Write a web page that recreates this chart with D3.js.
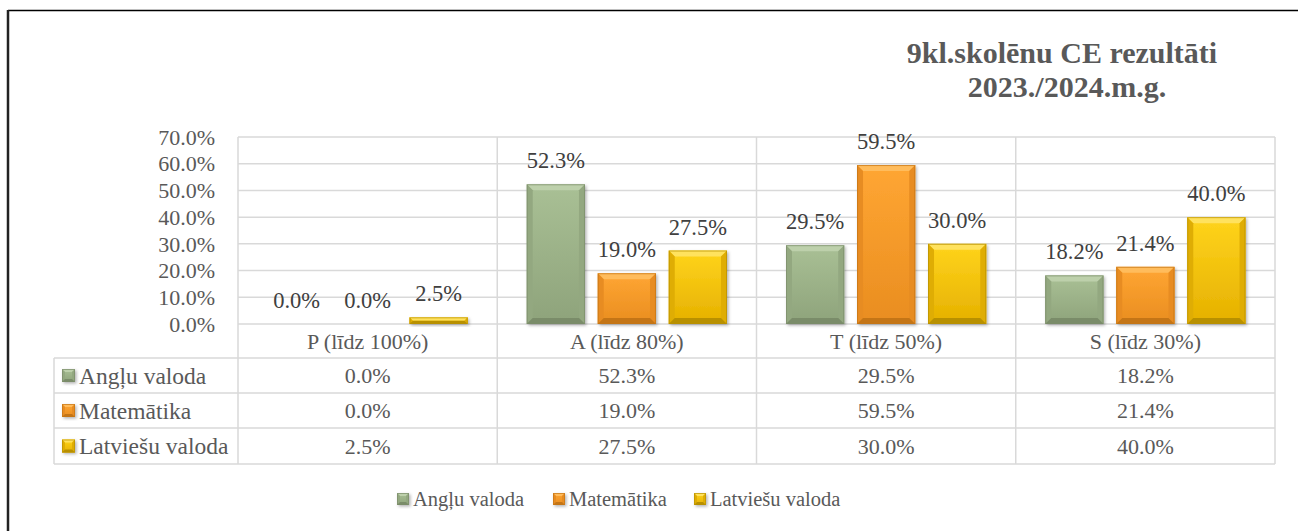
<!DOCTYPE html>
<html>
<head>
<meta charset="utf-8">
<script src="https://cdn.jsdelivr.net/npm/d3@7"></script>
<style>
  body { margin: 0; background: #fff; }
  svg { display: block; }
</style>
</head>
<body>
<svg width="1298" height="531" font-family="'Liberation Serif', 'DejaVu Serif', serif"></svg>
<script>
const categories = ["P (līdz 100%)", "A (līdz 80%)", "T (līdz 50%)", "S (līdz 30%)"];
const seriesNames = ["Angļu valoda", "Matemātika", "Latviešu valoda"];
const angluValues = [0.0, 52.3, 29.5, 18.2];
const matematikaValues = [0.0, 19.0, 59.5, 21.4];
const latviesuValues = [2.5, 27.5, 30.0, 40.0];
const yTicks = [0, 10, 20, 30, 40, 50, 60, 70];
const titleLines = ["9kl.skolēnu CE rezultāti", "2023./2024.m.g."];

const seriesValues = [angluValues, matematikaValues, latviesuValues];

// colour sets: face top, face bottom, top bevel, side bevel, bottom bevel
const palette = [
  { top: "#a9c095", bot: "#8ea37b", hi: "#bdd0ab", side: "#93a880", low: "#7a8c69" },
  { top: "#ffa633", bot: "#e98d20", hi: "#ffbc5c", side: "#e78c22", low: "#c47516" },
  { top: "#ffd41c", bot: "#e5b000", hi: "#ffe25e", side: "#dfad04", low: "#b89000" }
];

const svg = d3.select("svg");
const grid = "#d9d9d9";
const txt = "#595959";

// frame
svg.append("line").attr("x1", 8).attr("x2", 1298).attr("y1", 10.5).attr("y2", 10.5)
  .attr("stroke", "#000").attr("stroke-width", 1.5);
svg.append("line").attr("x1", 8).attr("x2", 8).attr("y1", 10).attr("y2", 531)
  .attr("stroke", "#222").attr("stroke-width", 2.5);

const defs = svg.append("defs");
defs.append("filter").attr("id", "shadow").attr("x", "-20%").attr("y", "-20%")
  .attr("width", "150%").attr("height", "150%")
  .append("feDropShadow").attr("dx", 1.5).attr("dy", 1.5).attr("stdDeviation", 1.5)
  .attr("flood-color", "#000").attr("flood-opacity", 0.3);
palette.forEach((p, i) => {
  const g = defs.append("linearGradient").attr("id", "face" + i)
    .attr("x1", 0).attr("x2", 0).attr("y1", 0).attr("y2", 1);
  g.append("stop").attr("offset", "0%").attr("stop-color", p.top);
  g.append("stop").attr("offset", "100%").attr("stop-color", p.bot);
});

// title
svg.append("text").attr("x", 1063).attr("fill", txt)
  .attr("font-size", 30).attr("font-weight", "bold").attr("text-anchor", "middle")
  .selectAll("tspan").data(titleLines).join("tspan")
  .attr("x", (d, i) => i ? 1067 : 1062).attr("y", (d, i) => 63 + i * 34).text(d => d);

const left = 238, right = 1275, tableLeft = 54;
const x = d3.scaleBand().domain(categories).range([left, right]);
const xs = d3.scaleBand().domain(seriesNames)
  .range([29.5, x.bandwidth() - 29.5]).paddingInner(0.18);
const y = d3.scaleLinear().domain([0, 70]).range([324, 137]);

const rows = [324, 358, 393, 428, 464];

// gridlines
svg.append("g").selectAll("line").data(yTicks).join("line")
  .attr("x1", left).attr("x2", right)
  .attr("y1", d => y(d)).attr("y2", d => y(d))
  .attr("stroke", grid).attr("stroke-width", 1.5);

// table horizontal lines
svg.append("g").selectAll("line").data(rows.slice(1)).join("line")
  .attr("x1", tableLeft).attr("x2", right)
  .attr("y1", d => d).attr("y2", d => d)
  .attr("stroke", grid).attr("stroke-width", 1.5);

// vertical lines
const vx = categories.map(c => x(c)).concat([right]);
svg.append("g").selectAll("line").data(vx).join("line")
  .attr("x1", d => d).attr("x2", d => d)
  .attr("y1", y(70)).attr("y2", rows[4])
  .attr("stroke", grid).attr("stroke-width", 1.5);
svg.append("line").attr("x1", tableLeft).attr("x2", tableLeft)
  .attr("y1", rows[1]).attr("y2", rows[4]).attr("stroke", grid).attr("stroke-width", 1.5);

// y axis labels
svg.append("g").selectAll("text").data(yTicks).join("text")
  .attr("x", 215).attr("y", d => y(d)).attr("dy", "0.35em")
  .attr("text-anchor", "end").attr("font-size", 22).attr("fill", txt)
  .text(d => d3.format(".1f")(d) + "%");

// beveled bar
function bevelBar(g, bx, by, w, h, i, b) {
  const p = palette[i];
  const s = g.append("g");
  s.append("rect").attr("x", bx).attr("y", by).attr("width", w).attr("height", h)
    .attr("fill", "url(#face" + i + ")").attr("filter", "url(#shadow)");
  if (h < 2 * b) b = h / 2;
  s.append("path").attr("fill", p.hi)
    .attr("d", `M${bx},${by}H${bx + w}L${bx + w - b},${by + b}H${bx + b}Z`);
  s.append("path").attr("fill", p.side)
    .attr("d", `M${bx},${by}L${bx + b},${by + b}V${by + h - b}L${bx},${by + h}Z`);
  s.append("path").attr("fill", p.side)
    .attr("d", `M${bx + w},${by}L${bx + w - b},${by + b}V${by + h - b}L${bx + w},${by + h}Z`);
  s.append("path").attr("fill", p.low)
    .attr("d", `M${bx},${by + h}H${bx + w}L${bx + w - b},${by + h - b}H${bx + b}Z`);
  s.append("rect").attr("x", bx + 0.5).attr("y", by + 0.5).attr("width", Math.max(0, w - 1))
    .attr("height", Math.max(0, h - 1)).attr("fill", "none").attr("stroke", p.low)
    .attr("stroke-opacity", 0.7).attr("stroke-width", 1);
}

// bars
const barG = svg.append("g");
seriesValues.forEach((vals, i) => {
  vals.forEach((v, j) => {
    const bx = x(categories[j]) + xs(seriesNames[i]);
    const by = y(v);
    const h = y(0) - by;
    if (h > 0) bevelBar(barG, bx, by, xs.bandwidth(), h, i, 6);
    svg.append("text")
      .attr("x", bx + xs.bandwidth() / 2).attr("y", by - 16)
      .attr("text-anchor", "middle").attr("font-size", 22.5).attr("fill", "#404040")
      .text(d3.format(".1f")(v) + "%");
  });
});

// category labels
svg.append("g").selectAll("text").data(categories).join("text")
  .attr("x", d => x(d) + x.bandwidth() / 2).attr("y", (rows[0] + rows[1]) / 2)
  .attr("dy", "0.35em").attr("text-anchor", "middle").attr("font-size", 22).attr("fill", txt)
  .text(d => d);

// table rows
seriesValues.forEach((vals, i) => {
  const cy = (rows[i + 1] + rows[i + 2]) / 2;
  bevelBar(svg, 62, cy - 6.5, 13, 13, i, 3);
  svg.append("text").attr("x", 79).attr("y", cy).attr("dy", "0.35em")
    .attr("font-size", 23.5).attr("fill", txt).text(seriesNames[i]);
  svg.append("g").selectAll("text").data(vals).join("text")
    .attr("x", (d, j) => x(categories[j]) + x.bandwidth() / 2).attr("y", cy)
    .attr("dy", "0.35em").attr("text-anchor", "middle").attr("font-size", 22).attr("fill", txt)
    .text(d => d3.format(".1f")(d) + "%");
});

// bottom legend
const legendX = [397, 553, 694];
seriesNames.forEach((n, i) => {
  bevelBar(svg, legendX[i], 493, 12, 12, i, 3);
  svg.append("text").attr("x", legendX[i] + 16).attr("y", 499).attr("dy", "0.35em")
    .attr("font-size", 20.5).attr("fill", txt).text(n);
});
</script>
</body>
</html>
